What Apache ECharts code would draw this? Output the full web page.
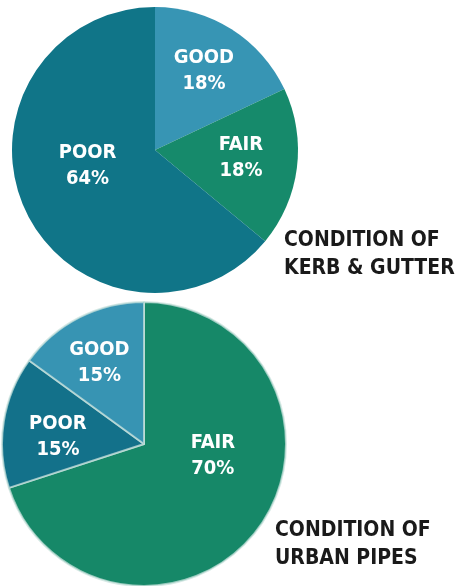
<!DOCTYPE html>
<html>
<head>
<meta charset="utf-8">
<script src="https://cdn.jsdelivr.net/npm/echarts@6/dist/echarts.min.js"></script>
<style>
html,body{margin:0;padding:0;background:#fff;}
#c{width:460px;height:586px;}
</style>
</head>
<body>
<div id="c"></div>
<script>
// Data
const kerbCategories = ['GOOD', 'FAIR', 'POOR'];
const kerbValues = [18, 18, 64];
const pipeCategories = ['FAIR', 'POOR', 'GOOD'];
const pipeValues = [70, 15, 15];
const titleKerb = 'CONDITION OF\nKERB & GUTTER';
const titlePipes = 'CONDITION OF\nURBAN PIPES';

const FONT = '"Liberation Sans Narrow", "DejaVu Sans Condensed", "Arial Narrow", sans-serif';
const colorMap = { GOOD: '#3795b4', FAIR: '#168a6b', POOR: '#107588' };
const colorMap2 = { GOOD: '#3794b3', FAIR: '#168868', POOR: '#13718a' };

// label nudges (style only)
const kerbNudge = { GOOD: [9, -16], FAIR: [12, -2], POOR: [0, -16] };
const pipeNudge = { FAIR: [9, -32], POOR: [-13, 4], GOOD: [-11, -15] };

const labelStyle = {
  show: true,
  position: 'inner',
  formatter: '{b}\n{c}%',
  color: '#ffffff',
  fontFamily: FONT,
  fontWeight: 'bold',
  fontSize: 20,
  lineHeight: 26,
  align: 'center'
};

const chart = echarts.init(document.getElementById('c'), null, { renderer: 'canvas' });
chart.setOption({
  backgroundColor: '#ffffff',
  animation: false,
  title: [
    {
      text: titleKerb, left: 279, top: 222,
      textStyle: { fontFamily: FONT, fontWeight: 'bold', fontSize: 21, lineHeight: 28, color: '#1a1a1a' }
    },
    {
      text: titlePipes, left: 270, top: 512,
      textStyle: { fontFamily: FONT, fontWeight: 'bold', fontSize: 21, lineHeight: 28, color: '#1a1a1a' }
    }
  ],
  series: [
    {
      type: 'pie',
      center: [155, 150],
      radius: [0, 143],
      startAngle: 90,
      clockwise: true,
      silent: true,
      label: labelStyle,
      labelLine: { show: false },
      labelLayout: function (p) {
        const n = kerbNudge[kerbCategories[p.dataIndex]];
        return { dx: n[0], dy: n[1] };
      },
      itemStyle: { borderWidth: 0 },
      data: kerbCategories.map((c, i) => ({ name: c, value: kerbValues[i], itemStyle: { color: colorMap[c] } }))
    },
    {
      type: 'pie',
      center: [144, 444],
      radius: [0, 142],
      startAngle: 90,
      clockwise: true,
      silent: true,
      label: labelStyle,
      labelLine: { show: false },
      labelLayout: function (p) {
        const n = pipeNudge[pipeCategories[p.dataIndex]];
        return { dx: n[0], dy: n[1] };
      },
      itemStyle: { borderWidth: 2, borderColor: 'rgba(200,225,220,0.75)' },
      data: pipeCategories.map((c, i) => ({ name: c, value: pipeValues[i], itemStyle: { color: colorMap2[c] } }))
    }
  ]
});
</script>
</body>
</html>
